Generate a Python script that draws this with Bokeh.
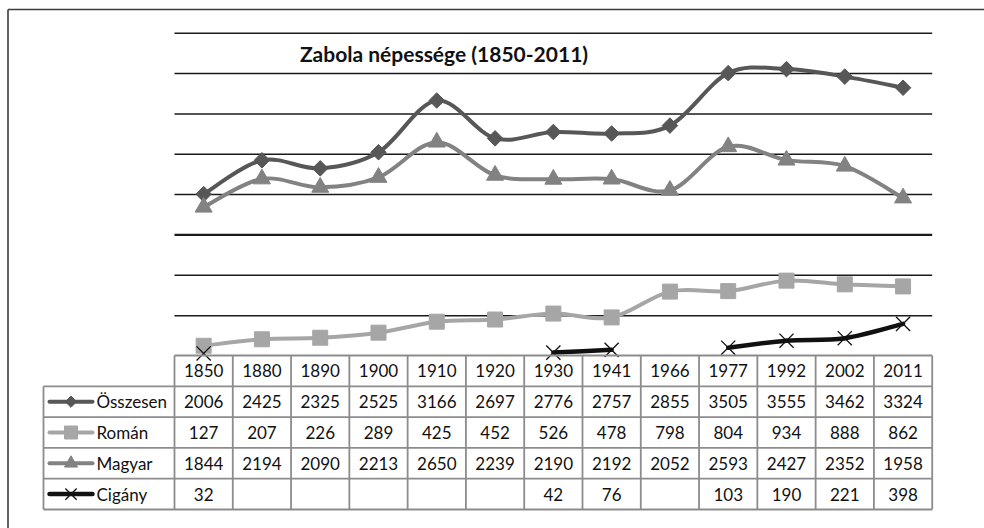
import math
from bokeh.plotting import figure
from bokeh.models import Range1d, Label
from bokeh.core.properties import value
from bokeh.embed import file_html
from bokeh.resources import INLINE

# ---------------- data ----------------
years = ["1850", "1880", "1890", "1900", "1910", "1920", "1930", "1941",
         "1966", "1977", "1992", "2002", "2011"]
osszesen = [2006, 2425, 2325, 2525, 3166, 2697, 2776, 2757, 2855, 3505, 3555, 3462, 3324]
roman = [127, 207, 226, 289, 425, 452, 526, 478, 798, 804, 934, 888, 862]
magyar = [1844, 2194, 2090, 2213, 2650, 2239, 2190, 2192, 2052, 2593, 2427, 2352, 1958]
cigany = [32, None, None, None, None, None, 42, 76, None, 103, 190, 221, 398]
series_names = ["Összesen", "Román", "Magyar", "Cigány"]
grid_values = [500, 1000, 1500, 2000, 2500, 3000, 3500, 4000]
title_text = "Zabola népessége (1850-2011)"

# ---------------- geometry (page pixels) ----------------
W, H = 984, 528
OFF = 0
COL0, COLW = 203.14, 58.285          # page x of first column centre, column width
Y0, PXU = 355.5, 0.0807               # page y of value 0, pixels per unit
ROW_TOP, ROWH = 355.0, 30.8           # table top, row height


def px_x(px):
    return (px - COL0) / COLW


def py_v(py):
    return (Y0 - py) / PXU


FONT = "Lato"

p = figure(width=W, height=H, output_backend="svg", toolbar_location=None,
           x_range=Range1d(px_x(OFF), px_x(OFF + W)),
           y_range=Range1d(py_v(OFF + H), py_v(OFF)),
           x_axis_location=None, y_axis_location=None,
           min_border=0, outline_line_color=None,
           background_fill_color="white", border_fill_color="white")
p.xgrid.visible = False
p.ygrid.visible = False
p.extra_y_ranges = {"tbl": Range1d(-(OFF + H - ROW_TOP) / ROWH, (ROW_TOP - OFF) / ROWH)}

n = len(years)
idx = list(range(n))
left_edge, right_edge = -0.5, n - 0.5

# outer border (left and top)
p.segment(x0=[px_x(7.5), px_x(7.5)], y0=[py_v(528), py_v(9)],
          x1=[px_x(7.5), px_x(984)], y1=[py_v(9), py_v(9)],
          line_color="#3c3c3c", line_width=1.6)

# gridlines
gw = [2.2 if g == 1500 else 1.5 for g in grid_values]
p.segment(x0=[left_edge] * len(grid_values), x1=[right_edge] * len(grid_values),
          y0=grid_values, y1=grid_values, line_color="#1a1a1a", line_width=gw)


def smooth(xs, ys, color, width):
    d = dict(x0=[], y0=[], x1=[], y1=[], cx0=[], cy0=[], cx1=[], cy1=[])
    m = len(xs)
    for k in range(m - 1):
        a = k - 1 if k > 0 else k
        b = k + 2 if k + 2 < m else k + 1
        d["x0"].append(xs[k]); d["y0"].append(ys[k])
        d["x1"].append(xs[k + 1]); d["y1"].append(ys[k + 1])
        d["cx0"].append(xs[k] + (xs[k + 1] - xs[a]) / 6)
        d["cy0"].append(ys[k] + (ys[k + 1] - ys[a]) / 6)
        d["cx1"].append(xs[k + 1] - (xs[b] - xs[k]) / 6)
        d["cy1"].append(ys[k + 1] - (ys[b] - ys[k]) / 6)
    if d["x0"]:
        p.bezier(line_color=color, line_width=width, line_cap="round", **d)


def runs(vals):
    out, cur = [], []
    for i, v in enumerate(vals):
        if v is None:
            if cur:
                out.append(cur)
            cur = []
        else:
            cur.append((i, v))
    if cur:
        out.append(cur)
    return out


styles = [
    dict(vals=osszesen, color="#575757", width=4, marker="square", angle=math.pi / 4,
         size=11, lsize=8),
    dict(vals=roman, color="#a6a6a6", width=4, marker="square", angle=0, size=15, lsize=13),
    dict(vals=magyar, color="#828282", width=4, marker="triangle", angle=0, size=17, lsize=13),
    dict(vals=cigany, color="#111111", width=4.5, marker="x", angle=0, size=20, lsize=16),
]


def marks(xs, ys, st, size, **kw):
    if st["marker"] == "x":
        p.scatter(xs, ys, marker="x", size=size, line_color=st["color"], line_width=1.3, **kw)
    else:
        p.scatter(xs, ys, marker=st["marker"], size=size, angle=st["angle"],
                  fill_color=st["color"], line_color=st["color"], **kw)


for st in styles:
    for r in runs(st["vals"]):
        smooth([q[0] for q in r], [q[1] for q in r], st["color"], st["width"])
    xs = [i for i, v in enumerate(st["vals"]) if v is not None]
    ys = [v for v in st["vals"] if v is not None]
    marks(xs, ys, st, st["size"])

# ---------------- data table ----------------
TL = "#8c8c8c"
leg_left = px_x(43)
hx0 = [left_edge] + [leg_left] * 5
hx1 = [right_edge] * 6
hy = [0, -1, -2, -3, -4, -5]
p.segment(x0=hx0, x1=hx1, y0=hy, y1=hy, line_color=TL, line_width=1.8, y_range_name="tbl")
vx = [leg_left] + [i - 0.5 for i in range(n + 1)]
vy0 = [-1] + [0] * (n + 1)
vy1 = [-5] * (n + 2)
p.segment(x0=vx, x1=vx, y0=vy0, y1=vy1, line_color=TL, line_width=1.8, y_range_name="tbl")

TS = "17px"
p.text(x=idx, y=[-0.5] * n, text=years, y_range_name="tbl", text_align="center",
       text_baseline="middle", text_font=value(FONT), text_font_size=TS,
       text_color="#111111")
for r, st in enumerate(styles):
    xs = [i for i, v in enumerate(st["vals"]) if v is not None]
    tv = [str(v) for v in st["vals"] if v is not None]
    p.text(x=xs, y=[-(r + 1.5)] * len(xs), text=tv, y_range_name="tbl", text_align="center",
           text_baseline="middle", text_font=value(FONT), text_font_size=TS,
           text_color="#111111")
    ly = -(r + 1.5)
    p.segment(x0=[px_x(49)], x1=[px_x(92)], y0=[ly], y1=[ly], line_color=st["color"],
              line_width=st["width"], line_cap="round", y_range_name="tbl")
    marks([px_x(70.5)], [ly], st, st["lsize"], y_range_name="tbl")
    p.text(x=[px_x(96)], y=[ly], text=[series_names[r]], y_range_name="tbl",
           text_align="left", text_baseline="middle", text_font=value(FONT),
           text_font_size=TS, text_color="#111111")

p.add_layout(Label(x=px_x(443.5), y=py_v(53), text=title_text, text_align="center",
                   text_baseline="middle", text_font=FONT, text_font_size="21px",
                   text_font_style="bold", text_color="#111111"))

open("out.html", "w").write(file_html(p, INLINE))
